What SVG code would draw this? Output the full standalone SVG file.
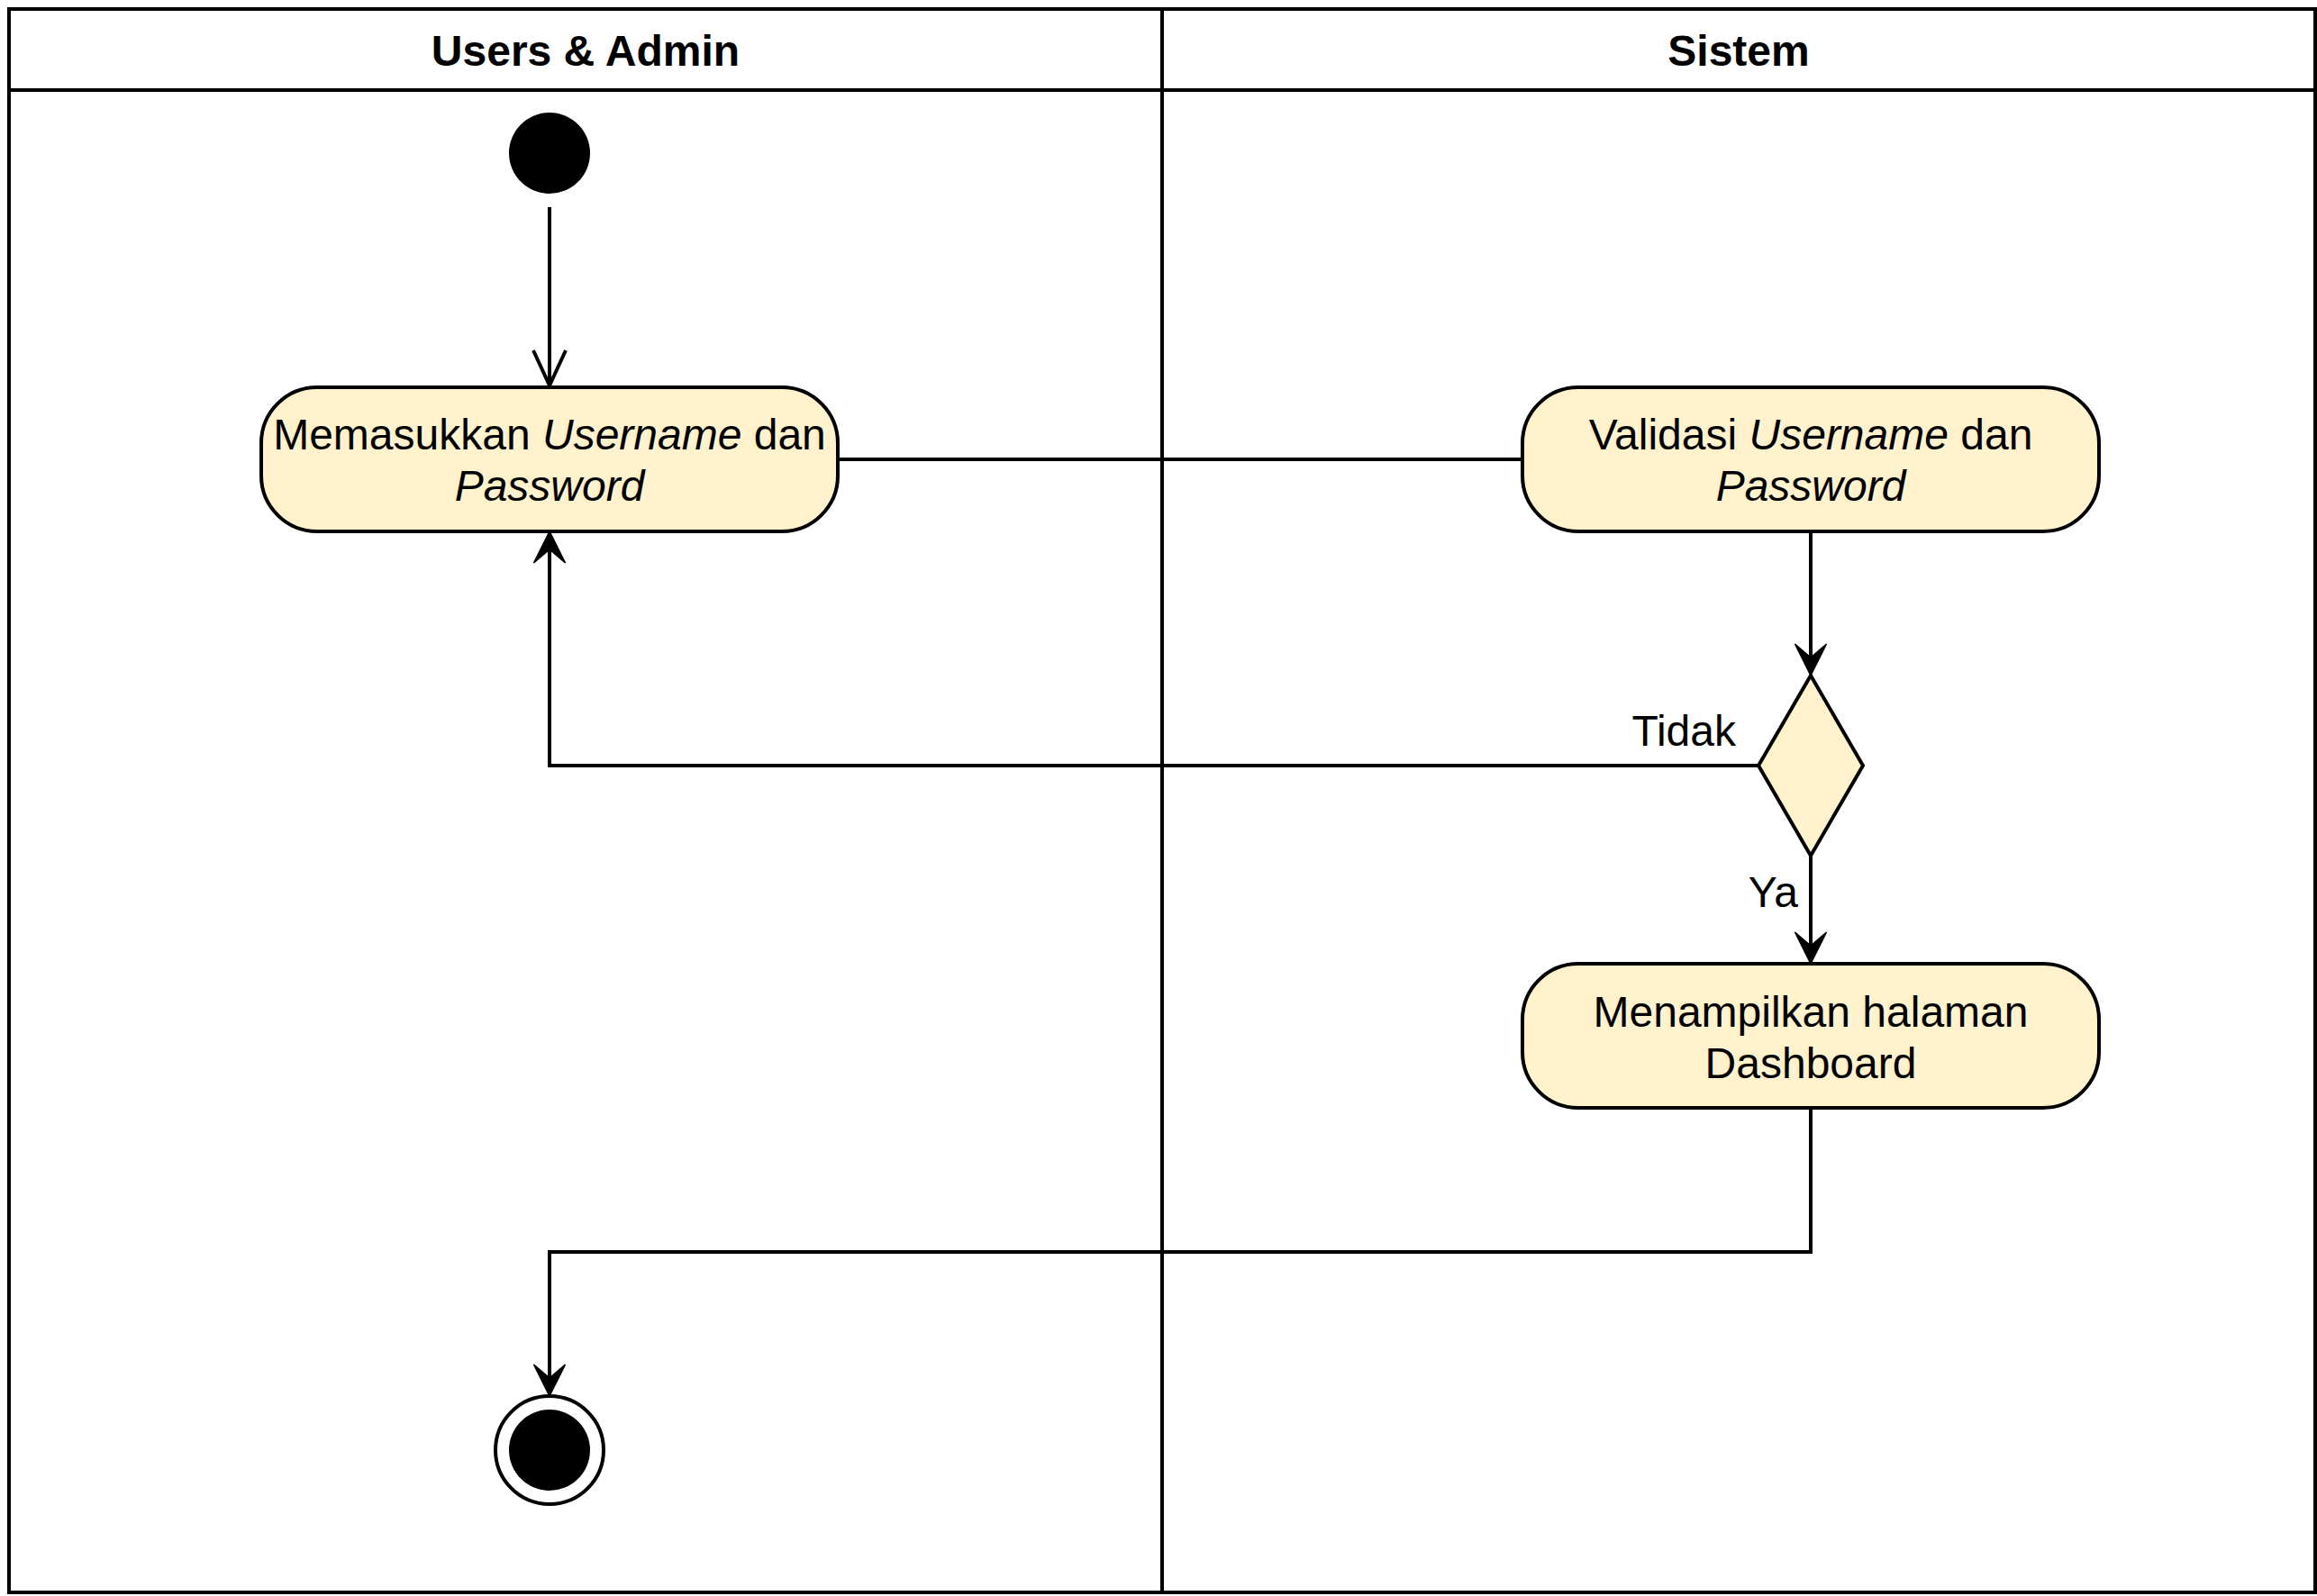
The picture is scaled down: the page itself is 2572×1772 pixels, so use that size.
<svg xmlns="http://www.w3.org/2000/svg" width="2572" height="1772" viewBox="0 0 2572 1772">
<style>
  .lane { fill: #ffffff; stroke: #000000; stroke-width: 4; }
  .hdr { font-family: "Liberation Sans", Arial, sans-serif; font-size: 48px; font-weight: bold; fill: #000000; text-anchor: middle; }
  .act { fill: #fff2cc; stroke: #000000; stroke-width: 4; }
  .lbl { font-family: "Liberation Sans", Arial, sans-serif; font-size: 48px; fill: #000000; text-anchor: middle; }
  .edge { fill: none; stroke: #000000; stroke-width: 4; }
  .elbl { font-family: "Liberation Sans", Arial, sans-serif; font-size: 48px; fill: #000000; text-anchor: end; }
  .it { font-style: italic; }
</style>
<defs>
  <marker id="filled" markerUnits="userSpaceOnUse" viewBox="-40 -20 44 40" markerWidth="44" markerHeight="40" refX="-20" refY="0" orient="auto">
    <path d="M0,0 L-35,-17.5 L-20,0 L-35,17.5 Z" fill="#000000" stroke="#000000" stroke-width="1.5" stroke-linejoin="miter"/>
  </marker>
  <marker id="open" markerUnits="userSpaceOnUse" viewBox="-44 -24 48 48" markerWidth="48" markerHeight="48" refX="0" refY="0" orient="auto">
    <path d="M-39,-18 L0,0 L-39,18" fill="none" stroke="#000000" stroke-width="4" stroke-linejoin="miter"/>
  </marker>
</defs>
<rect x="0" y="0" width="2572" height="1772" fill="#ffffff"/>
<g id="lane-users">
  <rect class="lane" x="10" y="10" width="1280" height="1758"/>
  <line x1="10" y1="100" x2="1290" y2="100" stroke="#000000" stroke-width="4"/>
  <text class="hdr" x="650" y="73">Users &amp; Admin</text>
</g>
<g id="lane-sistem">
  <rect class="lane" x="1290" y="10" width="1280" height="1758"/>
  <line x1="1290" y1="100" x2="2570" y2="100" stroke="#000000" stroke-width="4"/>
  <text class="hdr" x="1930" y="73">Sistem</text>
</g>
<g id="connectors">
  <path class="edge" d="M610,230 L610,428" marker-end="url(#open)"/>
  <path class="edge" d="M930,510 L1690,510"/>
  <path class="edge" d="M2010,590 L2010,730" marker-end="url(#filled)"/>
  <path class="edge" d="M1952,850 L610,850 L610,610" marker-end="url(#filled)"/>
  <path class="edge" d="M2010,950 L2010,1050" marker-end="url(#filled)"/>
  <path class="edge" d="M2010,1230 L2010,1390 L610,1390 L610,1530" marker-end="url(#filled)"/>
  <text class="elbl" x="1927" y="828">Tidak</text>
  <text class="elbl" x="1996" y="1007">Ya</text>
</g>
<g id="start">
  <circle cx="610" cy="170" r="45" fill="#000000"/>
</g>
<g id="memasukkan">
  <rect class="act" x="290" y="430" width="640" height="160" rx="62" ry="62"/>
  <text class="lbl" x="610" y="499">Memasukkan <tspan class="it">Username</tspan> dan</text>
  <text class="lbl it" x="610" y="556">Password</text>
</g>
<g id="validasi">
  <rect class="act" x="1690" y="430" width="640" height="160" rx="62" ry="62"/>
  <text class="lbl" x="2010" y="499">Validasi <tspan class="it">Username</tspan> dan</text>
  <text class="lbl it" x="2010" y="556">Password</text>
</g>
<g id="decision">
  <polygon class="act" points="2010,750 2068,850 2010,950 1952,850"/>
</g>
<g id="dashboard">
  <rect class="act" x="1690" y="1070" width="640" height="160" rx="62" ry="62"/>
  <text class="lbl" x="2010" y="1140">Menampilkan halaman</text>
  <text class="lbl" x="2010" y="1197">Dashboard</text>
</g>
<g id="end">
  <circle cx="610" cy="1610" r="60" fill="#ffffff" stroke="#000000" stroke-width="4"/>
  <circle cx="610" cy="1610" r="45" fill="#000000"/>
</g>
</svg>
